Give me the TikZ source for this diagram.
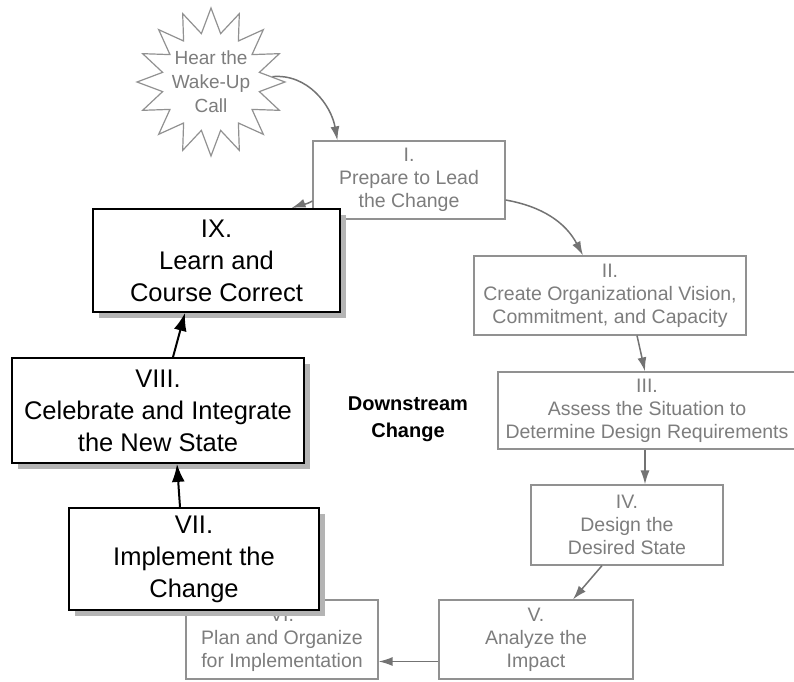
\documentclass[tikz,border=0pt]{standalone}
\usepackage{fontspec}
\setmainfont{Liberation Sans}
\usetikzlibrary{shapes.geometric,arrows.meta,calc,shadows}

\definecolor{stagetext}{RGB}{125,125,125}
\definecolor{stageline}{RGB}{145,145,145}
\definecolor{flowgray}{RGB}{115,115,115}
\definecolor{shadowgray}{RGB}{180,180,180}

\tikzset{
  x=1pt, y=1pt,
  stagebox/.style={draw=stageline, line width=1.2pt, fill=white, text=stagetext,
    align=center, inner sep=0pt,
    font=\fontsize{19.5}{23}\selectfont},
  mainbox/.style={draw=black, line width=1.8pt, fill=white, text=black,
    align=center, inner sep=0pt,
    font=\fontsize{25.5}{32}\selectfont,
    general shadow={shadow xshift=6pt, shadow yshift=-6pt, fill=shadowgray}},
  burst/.style={star, star points=16, star point ratio=1.5, minimum size=148pt,
    inner sep=-12pt, draw=stageline, line width=1.2pt, fill=white, text=stagetext,
    align=center, font=\fontsize{19}{24}\selectfont},
  flow/.style={draw=flowgray, line width=1.5pt,
    -{Latex[length=14pt,width=9pt]}},
  mainflow/.style={draw=black, line width=2pt,
    -{Latex[length=18pt,width=13pt]}},
  centrelabel/.style={align=center, font=\bfseries\fontsize{20}{27}\selectfont}
}

\begin{document}
\begin{tikzpicture}
\useasboundingbox (0,0) rectangle (794,681);
\clip (0,0) rectangle (794,681);

% starting trigger
\node[burst] (wake) at (211,599) {Hear the\\Wake-Up\\Call};

% upstream stages
\node[stagebox, minimum width=192, minimum height=78] (I) at (409,501)
  {I.\\Prepare to Lead\\the Change};
\node[stagebox, minimum width=272, minimum height=79] (II) at (610,385.5)
  {II.\\Create Organizational Vision,\\Commitment, and Capacity};
\node[stagebox, minimum width=298, minimum height=77] (III) at (647,270.5)
  {III.\\Assess the Situation to\\Determine Design Requirements};
\node[stagebox, minimum width=192, minimum height=80] (IV) at (627,156)
  {IV.\\Design the\\Desired State};
\node[stagebox, minimum width=194, minimum height=79] (V) at (536,41.5)
  {V.\\Analyze the\\Impact};
\node[stagebox, minimum width=192, minimum height=79] (VI) at (282,41.5)
  {VI.\\Plan and Organize\\for Implementation};

% downstream stages
\node[mainbox, minimum width=250, minimum height=102] (VII) at (194,122)
  {VII.\\Implement the\\Change};
\node[mainbox, minimum width=292, minimum height=105] (VIII) at (158,270.5)
  {VIII.\\Celebrate and Integrate\\the New State};
\node[mainbox, minimum width=247, minimum height=103] (IX) at (216.5,420.5)
  {IX.\\Learn and\\Course Correct};

\node[centrelabel] (ds) at (408,262) {Downstream\\Change};

% connectors
\draw[flow] (wake.5) to[out=5,in=100] ($(I.north west)+(25,0)$);
\draw[flow] ($(I.east)+(0,-20)$) to[out=-10,in=118] ($(II.north)+(-27,0)$);
\draw[flow] ($(II.south)+(27,0)$) -- ($(III.north)+(-2,0)$);
\draw[flow] ($(III.south)+(-2,0)$) -- ($(IV.north)+(18,0)$);
\draw[flow] ($(IV.south)+(-25,0)$) -- ($(V.north)+(37,0)$);
\draw[flow] ($(V.west)+(0,-22)$) -- ($(VI.east)+(0,-22)$);
\draw[flow] ($(I.west)+(0,-21)$) to[out=-150,in=20] ($(IX.north)+(75,0)$);
\draw[mainflow] ($(VII.north)+(-14,0)$) -- ($(VIII.south)+(19,0)$);
\draw[mainflow] ($(VIII.north)+(15,0)$) -- ($(IX.south)+(-31.5,0)$);
\end{tikzpicture}
\end{document}
